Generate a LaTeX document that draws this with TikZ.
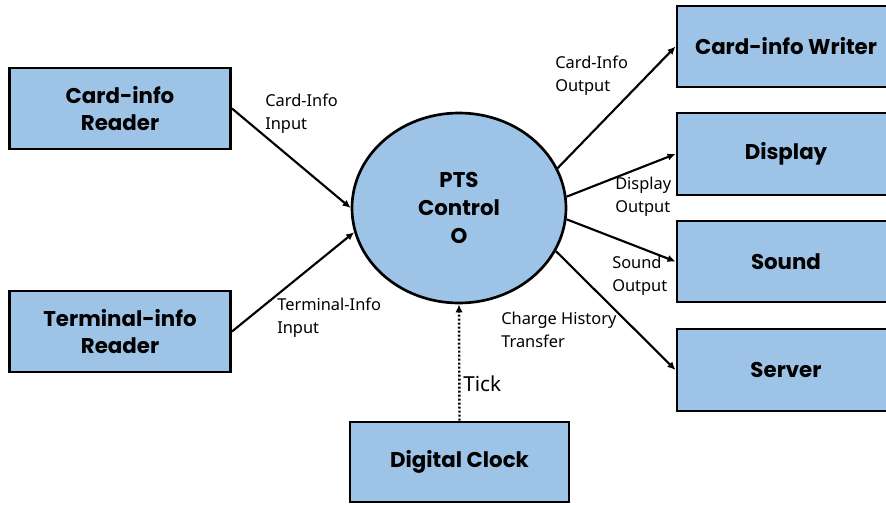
\documentclass[tikz,border=0pt]{standalone}
\usepackage{fontspec}
\setmainfont{Noto Sans}
\newfontfamily\boxfont{Poppins}
\usetikzlibrary{shapes.geometric,arrows.meta}
\definecolor{boxblue}{HTML}{9DC3E6}
\begin{document}
\begin{tikzpicture}[x=0.75pt,y=-0.75pt,
  box/.style={draw=black,line width=2.2pt,fill=boxblue,inner sep=0pt,align=center,
    font=\boxfont\bfseries\fontsize{16}{20.5}\selectfont},
  flow/.style={line width=1.6pt,-{Latex[length=6pt,width=5.5pt]}},
  lbl/.style={inner sep=0pt,anchor=north west,align=left,font=\fontsize{12.3}{17}\selectfont}]
\useasboundingbox (0,0) rectangle (886,504);
\fill[white] (0,0) rectangle (886,504);
% nodes
\node[box,minimum width=165.75pt,minimum height=60.75pt] (cr) at (120,108.5) {Card-info\\Reader};
\node[box,minimum width=165.75pt,minimum height=60.75pt] (tr) at (120,331.5) {Terminal-info\\Reader};
\node[draw=black,line width=2pt,fill=boxblue,ellipse,inner sep=0pt,minimum width=160.5pt,minimum height=142.5pt,align=center,
  font=\boxfont\bfseries\fontsize{16}{21}\selectfont] (ctrl) at (459,208) {PTS\\Control\\O};
\node[box,minimum width=163.5pt,minimum height=60.75pt] (cw) at (786,46.5) {Card-info Writer};
\node[box,minimum width=163.5pt,minimum height=61.5pt] (disp) at (786,154) {Display};
\node[box,minimum width=163.5pt,minimum height=60.75pt] (snd) at (786,261.5) {Sound};
\node[box,minimum width=163.5pt,minimum height=61.5pt] (srv) at (786,370) {Server};
\node[box,minimum width=164.25pt,minimum height=60pt] (clk) at (459.5,462) {Digital Clock};
% connectors
\draw[flow] (cr.east) -- (ctrl.west);
\draw[flow] (tr.east) -- (ctrl.193);
\draw[flow] (ctrl.22) -- (cw.west);
\draw[flow] (ctrl.6) -- (disp.west);
\draw[flow] (ctrl.354) -- (snd.west);
\draw[flow] (ctrl.336) -- (srv.west);
\draw[line width=1.8pt,dash pattern=on 1.5pt off 1.5pt,-{Latex[length=6pt,width=5.5pt]}] (clk.north) -- (ctrl.south);
% labels
\node[lbl] (l1) at (265,94) {Card-Info\\Input};
\node[lbl] (l2) at (277,298) {Terminal-Info\\Input};
\node[lbl] (l3) at (555,56) {Card-Info\\Output};
\node[lbl] (l4) at (615,177) {Display\\Output};
\node[lbl] (l5) at (612,256) {Sound\\Output};
\node[lbl] (l6) at (501,312) {Charge History\\Transfer};
\node[lbl,font=\fontsize{15.5}{18}\selectfont] (l7) at (463,376) {Tick};
\end{tikzpicture}
\end{document}
